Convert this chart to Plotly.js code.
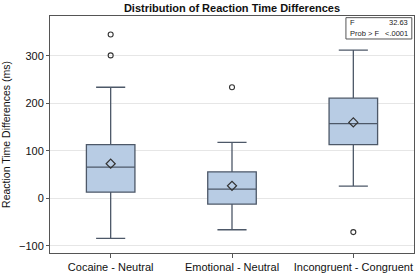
<!DOCTYPE html>
<html>
<head>
<meta charset="utf-8">
<script src="https://cdn.plot.ly/plotly-3.0.1.min.js"></script>
<style>html,body{margin:0;padding:0;background:#fff;}#chart{width:417px;height:276px;}</style>
</head>
<body>
<div id="chart"></div>
<script>
var categories = ['Cocaine - Neutral', 'Emotional - Neutral', 'Incongruent - Congruent'];
var q1Values = [13, -12, 113];
var medianValues = [66, 19.5, 157.5];
var q3Values = [113, 56, 211];
var lowerWhisker = [-84, -66, 26];
var upperWhisker = [234, 118, 312];
var meanValues = [73, 26.5, 160];
var outlierCategories = ['Cocaine - Neutral', 'Cocaine - Neutral', 'Emotional - Neutral', 'Incongruent - Congruent'];
var outlierValues = [345, 301, 234, -71];
var yTicks = [-100, 0, 100, 200, 300];
var statLabels = ['F', 'Prob > F'];
var statValues = ['32.63', '<.0001'];

var font = 'Arial, "Liberation Sans", sans-serif';

var traces = [
  {
    type: 'box',
    x: categories,
    q1: q1Values,
    median: medianValues,
    q3: q3Values,
    lowerfence: lowerWhisker,
    upperfence: upperWhisker,
    width: 0.4,
    whiskerwidth: 0.6,
    fillcolor: '#b8cce4',
    line: {color: '#4d5868', width: 1.3},
    boxpoints: false,
    hoverinfo: 'skip',
    showlegend: false
  },
  {
    type: 'scatter',
    mode: 'markers',
    x: categories,
    y: meanValues,
    marker: {symbol: 'diamond-open', size: 7, color: '#333', line: {width: 1.2, color: '#333'}},
    showlegend: false
  },
  {
    type: 'scatter',
    mode: 'markers',
    x: outlierCategories,
    y: outlierValues,
    marker: {symbol: 'circle-open', size: 5, color: '#333', line: {width: 1.1, color: '#333'}},
    showlegend: false
  }
];

var annotations = [];
for (var i = 0; i < statLabels.length; i++) {
  var yy = 0.972 - i * 0.047;
  annotations.push({xref: 'paper', yref: 'paper', x: 0.82, y: yy, xanchor: 'left', yanchor: 'middle',
    text: statLabels[i], showarrow: false, font: {family: font, size: 7.5, color: '#222'}});
  annotations.push({xref: 'paper', yref: 'paper', x: 0.99, y: yy, xanchor: 'right', yanchor: 'middle',
    text: statValues[i], showarrow: false, font: {family: font, size: 7.5, color: '#222'}});
}

var layout = {
  width: 417, height: 276,
  margin: {l: 50, r: 3, t: 16, b: 23, pad: 0},
  paper_bgcolor: '#fff', plot_bgcolor: '#fff',
  title: {text: '<b>Distribution of Reaction Time Differences</b>', x: 0.5, xref: 'paper', xanchor: 'center', y: 0.97, yanchor: 'middle',
    font: {family: font, size: 11, color: '#111'}},
  xaxis: {
    type: 'category', range: [-0.5, 2.5],
    showline: true, mirror: true, linecolor: '#555', linewidth: 1,
    ticks: 'outside', ticklen: 4, tickcolor: '#555',
    showgrid: false, zeroline: false,
    tickfont: {family: font, size: 11, color: '#111'}
  },
  yaxis: {
    range: [-115, 384],
    tickvals: yTicks,
    showline: true, mirror: true, linecolor: '#555', linewidth: 1,
    ticks: 'outside', ticklen: 3, tickcolor: '#555',
    showgrid: true, gridcolor: '#e6e6e6', gridwidth: 1, zeroline: false,
    tickfont: {family: font, size: 11, color: '#111'},
    title: {text: 'Reaction Time Differences (ms)', standoff: 6, font: {family: font, size: 10.5, color: '#111'}}
  },
  shapes: [
    {type: 'rect', xref: 'paper', yref: 'paper', x0: 0.813, x1: 0.994, y0: 0.903, y1: 0.993,
      line: {color: '#555', width: 1}, fillcolor: '#fff', layer: 'above'}
  ],
  annotations: annotations
};

Plotly.newPlot('chart', traces, layout, {staticPlot: true, displayModeBar: false});
</script>
</body>
</html>
